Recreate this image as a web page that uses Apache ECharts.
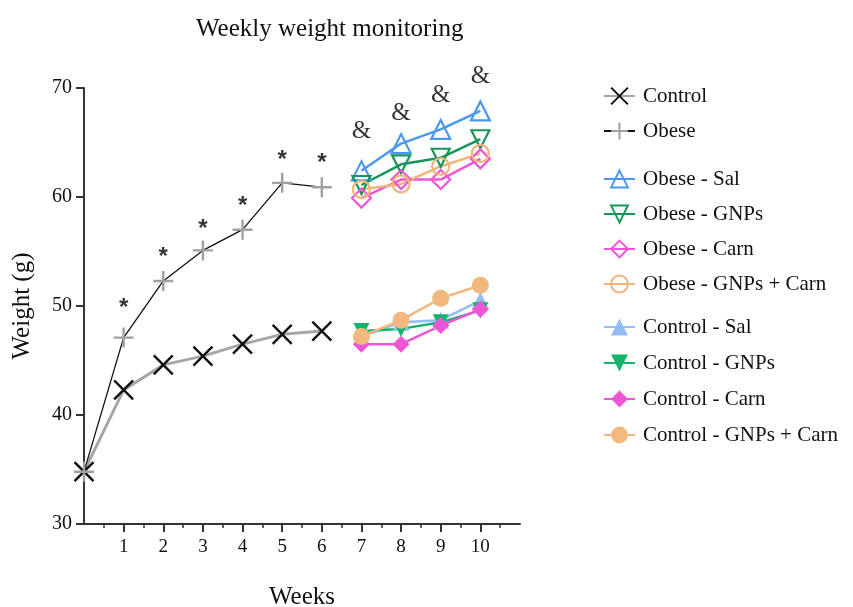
<!DOCTYPE html>
<html><head><meta charset="utf-8">
<script src="https://cdn.jsdelivr.net/npm/echarts@6/dist/echarts.min.js"></script>
<style>html,body{margin:0;padding:0;background:#fff}#c{width:853px;height:607px}</style>
</head><body><div id="c"></div>
<script>
const weeksEarly = [0, 1, 2, 3, 4, 5, 6];
const weeksLate = [7, 8, 9, 10];
const tickLabels = [1, 2, 3, 4, 5, 6, 7, 8, 9, 10];
const control = [34.8, 42.3, 44.6, 45.4, 46.5, 47.4, 47.7];
const obese = [34.8, 47.1, 52.3, 55.1, 57.0, 61.3, 60.9];
const obeseSal = [62.4, 64.9, 66.2, 67.9];
const obeseGNPs = [61.1, 63.0, 63.6, 65.3];
const obeseCarn = [59.9, 61.6, 61.6, 63.5];
const obeseGNPsCarn = [60.7, 61.2, 62.8, 64.0];
const controlSal = [47.2, 48.5, 48.7, 50.5];
const controlGNPs = [47.7, 47.9, 48.5, 49.6];
const controlCarn = [46.5, 46.5, 48.2, 49.7];
const controlGNPsCarn = [47.2, 48.7, 50.7, 51.9];
const starWeeks = [1, 2, 3, 4, 5, 6];
const starY = [50.2, 54.9, 57.5, 59.6, 63.8, 63.5];
const ampWeeks = [7, 8, 9, 10];
const ampY = [66.0, 67.7, 69.3, 71.1];

const FONT = 'Liberation Serif';
const pair = (xs, ys) => xs.map((x, i) => [x, ys[i]]);

function grp(name, data, color, symbol, filled, rotate, size) {
  return {
    name, type: 'line', data: pair(weeksLate, data), symbol, symbolSize: size,
    symbolRotate: rotate || 0,
    lineStyle: { color, width: 2.5 },
    itemStyle: filled ? { color, borderColor: color, borderWidth: 0 }
                      : { color: 'rgba(255,255,255,0)', borderColor: color, borderWidth: 2.2 },
    z: 3
  };
}

const series = [
  { name: 'Control', type: 'line', data: pair(weeksEarly, control),
    symbol: 'path://M0,0L10,10M0,10L10,0', symbolSize: 19,
    lineStyle: { color: '#a6a6a6', width: 3 },
    itemStyle: { color: 'rgba(0,0,0,0)', borderColor: '#111', borderWidth: 2.4 }, z: 4 },
  { name: 'Obese', type: 'line', data: pair(weeksEarly, obese),
    symbol: 'path://M5,0L5,10M0,5L10,5', symbolSize: 20,
    lineStyle: { color: '#111', width: 1.3 },
    itemStyle: { color: 'rgba(0,0,0,0)', borderColor: '#a0a0a0', borderWidth: 2.4 }, z: 4 },
  grp('Obese - Sal', obeseSal, '#4a98ee', 'triangle', false, 0, 19),
  grp('Obese - GNPs', obeseGNPs, '#16965a', 'triangle', false, 180, 18),
  grp('Obese - Carn', obeseCarn, '#f055d6', 'diamond', false, 0, 19),
  grp('Obese - GNPs + Carn', obeseGNPsCarn, '#f0b47c', 'circle', false, 0, 17),
  grp('Control - Sal', controlSal, '#92bdf3', 'triangle', true, 0, 17),
  grp('Control - GNPs', controlGNPs, '#14b46c', 'triangle', true, 180, 16),
  grp('Control - Carn', controlCarn, '#f055d6', 'diamond', true, 0, 17),
  grp('Control - GNPs + Carn', controlGNPsCarn, '#f2b87e', 'circle', true, 0, 17),
  { name: 'stars', type: 'scatter', data: pair(starWeeks, starY), symbolSize: 1, clip: false,
    itemStyle: { color: 'rgba(0,0,0,0)' }, silent: true,
    label: { show: true, position: 'inside', formatter: '*', fontFamily: 'Liberation Sans', fontWeight: 'bold', fontSize: 24, color: '#000', offset: [0, 5] } },
  { name: 'amps', type: 'scatter', data: pair(ampWeeks, ampY), symbolSize: 1, clip: false,
    itemStyle: { color: 'rgba(0,0,0,0)' }, silent: true,
    label: { show: true, position: 'inside', formatter: '&', fontFamily: FONT, fontSize: 25, color: '#000' } }
];

const legBase = {
  orient: 'vertical', left: 598, itemWidth: 31, itemHeight: 21, itemGap: 13,
  textStyle: { fontFamily: FONT, fontSize: 21, color: '#111', lineHeight: 22, padding: [0, 0, 0, 3] },
  selectedMode: false
};

const chart = echarts.init(document.getElementById('c'), null, { renderer: 'canvas' });
chart.setOption({
  backgroundColor: '#fff',
  animation: false,
  title: { text: 'Weekly weight monitoring', left: 191, top: 12,
    textStyle: { fontFamily: FONT, fontSize: 25, fontWeight: 'normal', color: '#111' } },
  legend: [
    Object.assign({}, legBase, { top: 80, data: ['Control', 'Obese'] }),
    Object.assign({}, legBase, { top: 163, data: ['Obese - Sal', 'Obese - GNPs', 'Obese - Carn', 'Obese - GNPs + Carn'] }),
    Object.assign({}, legBase, { top: 311, itemGap: 14, data: ['Control - Sal', 'Control - GNPs', 'Control - Carn', 'Control - GNPs + Carn'] })
  ],
  grid: { left: 84, top: 88, width: 436, height: 436, containLabel: false, outerBoundsMode: 'none' },
  xAxis: {
    type: 'value', min: 0, max: 11, interval: 1,
    name: 'Weeks', nameLocation: 'middle', nameGap: 61,
    nameTextStyle: { fontFamily: FONT, fontSize: 25, color: '#111' },
    axisLine: { lineStyle: { color: '#333', width: 2 } },
    axisTick: { show: true, length: 8, lineStyle: { color: '#333', width: 2 }, customValues: tickLabels },
    minorTick: { show: true, splitNumber: 2, length: 4, lineStyle: { color: '#333', width: 1.5 } },
    axisLabel: { customValues: tickLabels, fontFamily: FONT, fontSize: 19, color: '#111', margin: 14 },
    splitLine: { show: false }, minorSplitLine: { show: false }
  },
  yAxis: {
    type: 'value', min: 30, max: 70, interval: 10,
    name: 'Weight (g)', nameLocation: 'middle', nameGap: 49,
    nameTextStyle: { fontFamily: FONT, fontSize: 25, color: '#111' },
    axisLine: { show: true, lineStyle: { color: '#333', width: 2 } },
    axisTick: { show: true, length: 8, lineStyle: { color: '#333', width: 2 } },
    axisLabel: { fontFamily: FONT, fontSize: 20, color: '#111', margin: 12 },
    splitLine: { show: false }
  },
  series
});
</script></body></html>
